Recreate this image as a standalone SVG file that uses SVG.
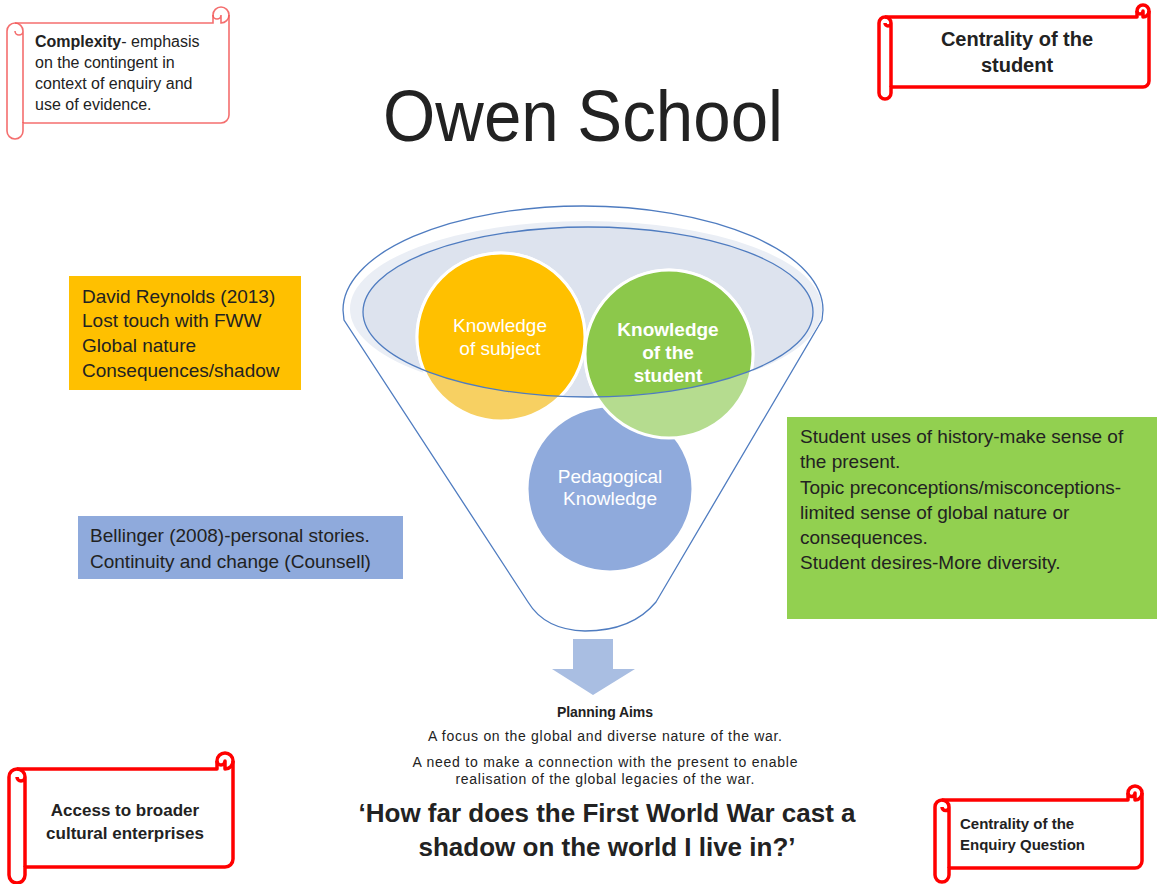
<svg xmlns="http://www.w3.org/2000/svg" width="1157" height="884" viewBox="0 0 1157 884">
<style>
text{font-family:"Liberation Sans",Arial,sans-serif;fill:#222}
.scroll{fill:#fff;stroke:#ff0000;stroke-width:3.5;stroke-linejoin:round}
.scrollLight{fill:#fff;stroke:#f25555;stroke-width:1.6;stroke-opacity:.85}
.det{fill:none}
.fun{stroke:#4f7cc0;stroke-width:1.3}
.ctext{fill:#fff;font-size:19px;text-anchor:middle}
.box{font-size:19px}
.ring{stroke:#fff;stroke-width:3}
.aim{font-size:14px;text-anchor:middle}
</style>
<defs>
<clipPath id="inner"><ellipse cx="588" cy="312" rx="225" ry="85"/></clipPath>
</defs>
<rect width="1157" height="884" fill="#fff"/>

<g id="title"><text x="583" y="141" font-size="72" text-anchor="middle" textLength="400" lengthAdjust="spacingAndGlyphs" fill="#111">Owen School</text></g>

<g id="funnel">
<path class="fun" fill="#fff" d="M344,320 L343,310 A240 104 0 0 1 823,310 L822,320 L656,602 Q632,631 585,631 Q545,630 528,602 Z"/>
<ellipse cx="586" cy="309" rx="236" ry="88" fill="#eaeef5"/>
<ellipse cx="588" cy="312" rx="225" ry="85" fill="#dde3ee"/>
</g>

<g id="circles">
<circle class="ring" cx="501" cy="337" r="84" fill="#f7d062"/>
<circle class="ring" cx="610" cy="489" r="83" fill="#8faadc"/>
<circle class="ring" cx="669" cy="354" r="84" fill="#b5dc8f"/>
<g clip-path="url(#inner)">
<circle class="ring" cx="501" cy="337" r="84" fill="#ffc000"/>
<circle class="ring" cx="669" cy="354" r="84" fill="#8cc84b"/>
</g>
<ellipse class="fun" cx="588" cy="312" rx="225" ry="85" fill="none"/>
</g>

<g id="node-subject">
<text class="ctext" x="500" y="332">Knowledge</text>
<text class="ctext" x="500" y="355">of subject</text>
</g>
<g id="node-student">
<text class="ctext" x="668" y="336" font-weight="bold" font-size="18.5">Knowledge</text>
<text class="ctext" x="668" y="359" font-weight="bold" font-size="18.5">of the</text>
<text class="ctext" x="668" y="382" font-weight="bold" font-size="18.5">student</text>
</g>
<g id="node-pedagogical">
<text class="ctext" x="610" y="483">Pedagogical</text>
<text class="ctext" x="610" y="505">Knowledge</text>
</g>

<g id="connectors">
<polygon points="573,639 613,639 613,669 635,669 593,695 552,669 573,669" fill="#a9bee2"/>
</g>

<g id="box-reynolds">
<rect x="69" y="276" width="232" height="114" fill="#ffc000"/>
<text class="box" x="82" y="303">David Reynolds (2013)</text>
<text class="box" x="82" y="327">Lost touch with FWW</text>
<text class="box" x="82" y="352">Global nature</text>
<text class="box" x="82" y="377">Consequences/shadow</text>
</g>

<g id="box-bellinger">
<rect x="78" y="516" width="325" height="63" fill="#8faadc"/>
<text class="box" x="90" y="542" font-size="20">Bellinger (2008)-personal stories.</text>
<text class="box" x="90" y="568" font-size="20">Continuity and change (Counsell)</text>
</g>

<g id="box-student">
<rect x="787" y="417" width="370" height="202" fill="#92d050"/>
<text class="box" x="800" y="443" font-size="20">Student uses of history-make sense of</text>
<text class="box" x="800" y="468" font-size="20">the present.</text>
<text class="box" x="800" y="494" font-size="20">Topic preconceptions/misconceptions-</text>
<text class="box" x="800" y="519" font-size="20">limited sense of global nature or</text>
<text class="box" x="800" y="544" font-size="20">consequences.</text>
<text class="box" x="800" y="569" font-size="20">Student desires-More diversity.</text>
</g>

<g id="aims">
<text class="aim" x="605" y="717" font-weight="bold" textLength="96">Planning Aims</text>
<text class="aim" x="605" y="741" textLength="354">A focus on the global and diverse nature of the war.</text>
<text class="aim" x="605" y="767" textLength="385">A need to make a connection with the present to enable</text>
<text class="aim" x="605" y="784" textLength="299">realisation of the global legacies of the war.</text>
</g>

<g id="question">
<text x="607" y="822" font-size="26" font-weight="bold" text-anchor="middle" fill="#111">‘How far does the First World War cast a</text>
<text x="607" y="856" font-size="26" font-weight="bold" text-anchor="middle" fill="#111">shadow on the world I live in?’</text>
</g>

<g id="scroll-complexity">
<path class="scrollLight" d="M7,131 L7,31 A8 8 0 0 1 15,23 L213,23 L213,15 A8 8 0 0 1 229,15 L229,115 A8 8 0 0 1 221,123 L23,123 L23,131 A8 8 0 0 1 7,131 Z"/>
<path class="scrollLight det" d="M229,15 A8 8 0 0 1 221,23 L221,15 A4 4 0 0 1 213,15 M15,23 A8 8 0 0 1 23,31 L23,123 M23,31 A4 4 0 0 1 15,31"/>
<text x="35" y="47" font-size="16"><tspan font-weight="bold">Complexity</tspan>- emphasis</text>
<text x="35" y="68" font-size="16">on the contingent in</text>
<text x="35" y="89" font-size="16">context of enquiry and</text>
<text x="35" y="110" font-size="16">use of evidence.</text>
</g>

<g id="scroll-centrality-student">
<path class="scroll" d="M879,93 L879,23 A6 6 0 0 1 885,17 L1137,17 L1137,11 A6 6 0 0 1 1149,11 L1149,81 A6 6 0 0 1 1143,87 L891,87 L891,93 A6 6 0 0 1 879,93 Z"/>
<path class="scroll det" d="M1149,11 A6 6 0 0 1 1143,17 L1143,11 A3 3 0 0 1 1137,11 M885,17 A6 6 0 0 1 891,23 L891,87 M891,23 A3 3 0 0 1 885,23"/>
<text x="1017" y="46" font-size="20" font-weight="bold" text-anchor="middle">Centrality of the</text>
<text x="1017" y="72" font-size="20" font-weight="bold" text-anchor="middle">student</text>
</g>

<g id="scroll-access">
<path class="scroll" d="M9,875 L9,777 A8 8 0 0 1 17,769 L217,769 L217,761 A8 8 0 0 1 233,761 L233,859 A8 8 0 0 1 225,867 L25,867 L25,875 A8 8 0 0 1 9,875 Z"/>
<path class="scroll det" d="M233,761 A8 8 0 0 1 225,769 L225,761 A4 4 0 0 1 217,761 M17,769 A8 8 0 0 1 25,777 L25,867 M25,777 A4 4 0 0 1 17,777"/>
<text x="125" y="816" font-size="17" font-weight="bold" text-anchor="middle">Access to broader</text>
<text x="125" y="839" font-size="17" font-weight="bold" text-anchor="middle">cultural enterprises</text>
</g>

<g id="scroll-enquiry">
<path class="scroll" d="M935,875 L935,807 A7 7 0 0 1 942,800 L1128,800 L1128,793 A7 7 0 0 1 1142,793 L1142,861 A7 7 0 0 1 1135,868 L949,868 L949,875 A7 7 0 0 1 935,875 Z"/>
<path class="scroll det" d="M1142,793 A7 7 0 0 1 1135,800 L1135,793 A3.5 3.5 0 0 1 1128,793 M942,800 A7 7 0 0 1 949,807 L949,868 M949,807 A3.5 3.5 0 0 1 942,807"/>
<text x="960" y="829" font-size="15" font-weight="bold">Centrality of the</text>
<text x="960" y="850" font-size="15" font-weight="bold">Enquiry Question</text>
</g>
</svg>
